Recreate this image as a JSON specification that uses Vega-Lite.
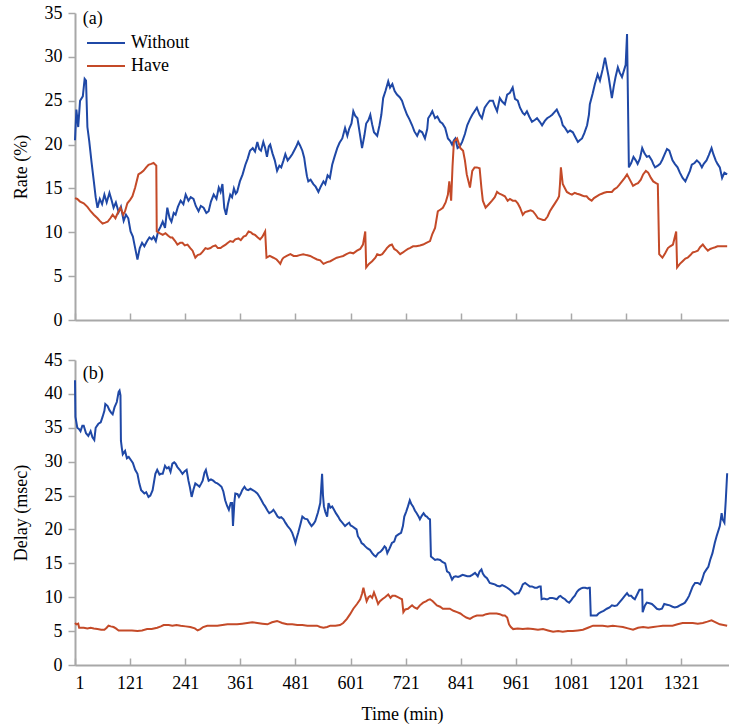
{
"$schema": "https://vega.github.io/schema/vega-lite/v6.json",
"padding": {"left": 12, "top": 4, "right": 0, "bottom": 2},
"background": "white",
"config": {
 "font": "Liberation Serif",
 "view": {"stroke": null},
 "axis": {"grid": false, "domainColor": "#a8a8a8", "domainWidth": 2, "tickColor": "#a8a8a8", "tickWidth": 1.5, "labelFont": "Liberation Serif", "labelFontSize": 18, "labelColor": "#000", "titleFont": "Liberation Serif", "titleFontSize": 18, "titleFontWeight": "normal", "titleColor": "#000"},
 "legend": {"orient": "none", "legendX": 11, "legendY": 22, "title": null, "symbolType": "stroke", "symbolSize": 1444, "symbolStrokeWidth": 2, "labelFont": "Liberation Serif", "labelFontSize": 18, "labelColor": "#000", "clipHeight": 16, "rowPadding": 5, "labelOffset": 5, "padding": 0}
},
"datasets": {
"rateW": [{"t":1,"v":20.5},{"t":4,"v":24},{"t":8,"v":22},{"t":12,"v":25},{"t":18,"v":25.5},{"t":22,"v":27.5},{"t":25,"v":27.3},{"t":28,"v":22},{"t":32,"v":20.4},{"t":37,"v":18},{"t":42,"v":15.8},{"t":46,"v":14},{"t":50,"v":12.8},{"t":55,"v":13.8},{"t":60,"v":13.2},{"t":65,"v":14.3},{"t":70,"v":13.4},{"t":76,"v":14.5},{"t":81,"v":13.6},{"t":85,"v":12.8},{"t":90,"v":13.4},{"t":96,"v":12.3},{"t":101,"v":12.9},{"t":107,"v":11.3},{"t":112,"v":12},{"t":117,"v":11.6},{"t":122,"v":10.1},{"t":127,"v":9.5},{"t":132,"v":8.2},{"t":137,"v":6.9},{"t":142,"v":8.2},{"t":147,"v":8.8},{"t":152,"v":8.4},{"t":158,"v":9},{"t":163,"v":9.4},{"t":168,"v":9.2},{"t":172,"v":9.5},{"t":177,"v":9},{"t":182,"v":10.1},{"t":187,"v":10.6},{"t":192,"v":11.2},{"t":197,"v":10.5},{"t":202,"v":12.8},{"t":207,"v":11.6},{"t":211,"v":11.2},{"t":216,"v":12.2},{"t":220,"v":12},{"t":225,"v":12.9},{"t":231,"v":13.6},{"t":237,"v":13.2},{"t":242,"v":14.3},{"t":248,"v":13.6},{"t":253,"v":14},{"t":259,"v":13.8},{"t":264,"v":13},{"t":270,"v":12.4},{"t":275,"v":13},{"t":281,"v":12.8},{"t":287,"v":12.2},{"t":292,"v":12.4},{"t":297,"v":13.5},{"t":303,"v":14.3},{"t":309,"v":13.8},{"t":314,"v":15.1},{"t":318,"v":14.6},{"t":322,"v":15.5},{"t":326,"v":12.8},{"t":330,"v":12},{"t":334,"v":13.2},{"t":339,"v":14.3},{"t":343,"v":14},{"t":347,"v":15},{"t":351,"v":14.4},{"t":354,"v":14.6},{"t":360,"v":15.8},{"t":366,"v":16.6},{"t":372,"v":17.7},{"t":377,"v":18.4},{"t":382,"v":19.3},{"t":388,"v":19.6},{"t":393,"v":19.2},{"t":398,"v":20.3},{"t":402,"v":19.5},{"t":406,"v":19.3},{"t":411,"v":20.3},{"t":415,"v":19.6},{"t":419,"v":18.6},{"t":423,"v":19.8},{"t":426,"v":20},{"t":431,"v":19},{"t":436,"v":18.2},{"t":441,"v":17},{"t":446,"v":17.6},{"t":450,"v":17.4},{"t":455,"v":18.2},{"t":459,"v":18.9},{"t":464,"v":18.2},{"t":470,"v":18.6},{"t":474,"v":18.9},{"t":478,"v":19.3},{"t":483,"v":19.8},{"t":487,"v":20.3},{"t":491,"v":19.9},{"t":496,"v":19.3},{"t":500,"v":18.5},{"t":503,"v":17.4},{"t":506,"v":16.4},{"t":509,"v":15.8},{"t":514,"v":16},{"t":520,"v":15.5},{"t":525,"v":15.2},{"t":531,"v":14.6},{"t":536,"v":15.2},{"t":542,"v":15.8},{"t":546,"v":15.5},{"t":551,"v":16.5},{"t":556,"v":16.2},{"t":561,"v":17.7},{"t":566,"v":18.6},{"t":572,"v":19.6},{"t":577,"v":20.2},{"t":583,"v":20.7},{"t":589,"v":21.9},{"t":594,"v":21},{"t":598,"v":21.8},{"t":603,"v":22.4},{"t":607,"v":23.8},{"t":611,"v":23.3},{"t":616,"v":23},{"t":621,"v":21.3},{"t":626,"v":19.6},{"t":631,"v":21},{"t":635,"v":22.4},{"t":640,"v":22.8},{"t":644,"v":23.4},{"t":648,"v":22.3},{"t":652,"v":21.4},{"t":659,"v":21},{"t":664,"v":22.2},{"t":668,"v":23.4},{"t":672,"v":25.3},{"t":677,"v":26.1},{"t":683,"v":27.2},{"t":687,"v":26.5},{"t":692,"v":26.9},{"t":697,"v":26.1},{"t":702,"v":25.7},{"t":708,"v":25.4},{"t":713,"v":25},{"t":718,"v":24.2},{"t":724,"v":23.4},{"t":729,"v":22.9},{"t":735,"v":22.2},{"t":740,"v":21.5},{"t":746,"v":21},{"t":751,"v":21.6},{"t":757,"v":21.4},{"t":763,"v":20.7},{"t":768,"v":21.8},{"t":770,"v":23},{"t":775,"v":23.4},{"t":779,"v":23.8},{"t":785,"v":23},{"t":790,"v":23.2},{"t":796,"v":22.6},{"t":801,"v":22.4},{"t":807,"v":21.9},{"t":813,"v":20.7},{"t":818,"v":20.4},{"t":822,"v":20},{"t":826,"v":20.5},{"t":829,"v":20.7},{"t":834,"v":19.6},{"t":839,"v":19.8},{"t":844,"v":20.3},{"t":850,"v":21.2},{"t":855,"v":22.2},{"t":861,"v":22.9},{"t":866,"v":23.4},{"t":871,"v":23.8},{"t":876,"v":24.2},{"t":882,"v":23.4},{"t":887,"v":23},{"t":893,"v":24.2},{"t":898,"v":24.6},{"t":904,"v":25},{"t":911,"v":25},{"t":915,"v":24.4},{"t":920,"v":23.8},{"t":926,"v":25.3},{"t":931,"v":24.9},{"t":937,"v":24.6},{"t":942,"v":25.7},{"t":948,"v":25.9},{"t":954,"v":26.5},{"t":959,"v":25.2},{"t":965,"v":25},{"t":970,"v":24.2},{"t":976,"v":23.6},{"t":980,"v":23.4},{"t":985,"v":23.8},{"t":990,"v":23.2},{"t":996,"v":22.6},{"t":1002,"v":22.8},{"t":1007,"v":23},{"t":1013,"v":22.6},{"t":1018,"v":22.2},{"t":1024,"v":22.7},{"t":1029,"v":23},{"t":1035,"v":23.2},{"t":1040,"v":23.4},{"t":1045,"v":23.7},{"t":1050,"v":24},{"t":1055,"v":23.4},{"t":1059,"v":23},{"t":1063,"v":22.2},{"t":1068,"v":21.9},{"t":1074,"v":21.4},{"t":1079,"v":21.6},{"t":1085,"v":21.4},{"t":1090,"v":20.9},{"t":1096,"v":20.3},{"t":1100,"v":20.5},{"t":1105,"v":20.7},{"t":1110,"v":21.3},{"t":1116,"v":22.2},{"t":1120,"v":23.4},{"t":1122,"v":24.6},{"t":1128,"v":25.8},{"t":1133,"v":26.9},{"t":1139,"v":28},{"t":1144,"v":27.3},{"t":1150,"v":28.6},{"t":1155,"v":29.9},{"t":1159,"v":28.8},{"t":1163,"v":27.7},{"t":1170,"v":25.3},{"t":1174,"v":26.6},{"t":1178,"v":27.7},{"t":1183,"v":28.8},{"t":1187,"v":28.2},{"t":1192,"v":27.7},{"t":1196,"v":28.4},{"t":1200,"v":29.1},{"t":1203,"v":32.6},{"t":1207,"v":17.4},{"t":1212,"v":17.9},{"t":1217,"v":18.6},{"t":1222,"v":18.2},{"t":1226,"v":17.8},{"t":1231,"v":18.4},{"t":1236,"v":19.6},{"t":1241,"v":19},{"t":1246,"v":18.6},{"t":1251,"v":18.7},{"t":1257,"v":18.2},{"t":1260,"v":17.8},{"t":1264,"v":17.4},{"t":1270,"v":17.6},{"t":1275,"v":17.8},{"t":1280,"v":18.3},{"t":1285,"v":18.9},{"t":1290,"v":19.5},{"t":1295,"v":19.3},{"t":1302,"v":18.2},{"t":1307,"v":17.8},{"t":1313,"v":17.4},{"t":1318,"v":16.8},{"t":1324,"v":16.2},{"t":1330,"v":15.8},{"t":1335,"v":16.4},{"t":1340,"v":17},{"t":1344,"v":17.7},{"t":1350,"v":17.9},{"t":1355,"v":18.2},{"t":1361,"v":17.9},{"t":1366,"v":17.4},{"t":1370,"v":17.8},{"t":1376,"v":18.2},{"t":1381,"v":18.8},{"t":1387,"v":19.6},{"t":1391,"v":18.9},{"t":1396,"v":18.2},{"t":1400,"v":17.8},{"t":1405,"v":17.4},{"t":1410,"v":16.2},{"t":1415,"v":16.8},{"t":1421,"v":16.6}],
"rateH": [{"t":1,"v":13.9},{"t":6,"v":13.8},{"t":12,"v":13.5},{"t":20,"v":13.3},{"t":28,"v":12.9},{"t":35,"v":12.4},{"t":42,"v":12},{"t":50,"v":11.6},{"t":55,"v":11.3},{"t":61,"v":11},{"t":67,"v":11.1},{"t":72,"v":11.2},{"t":78,"v":11.6},{"t":83,"v":12},{"t":89,"v":11.6},{"t":94,"v":12.2},{"t":100,"v":12.8},{"t":106,"v":12},{"t":110,"v":12.4},{"t":115,"v":13.3},{"t":121,"v":13.7},{"t":126,"v":14.1},{"t":132,"v":15.1},{"t":139,"v":16.6},{"t":145,"v":16.8},{"t":150,"v":17},{"t":156,"v":17.4},{"t":161,"v":17.7},{"t":167,"v":17.8},{"t":172,"v":17.9},{"t":178,"v":17.6},{"t":179,"v":10.1},{"t":185,"v":9.9},{"t":192,"v":9.7},{"t":198,"v":9.9},{"t":204,"v":9.6},{"t":209,"v":9.4},{"t":213,"v":9.4},{"t":219,"v":9},{"t":224,"v":8.6},{"t":230,"v":8.8},{"t":235,"v":8.8},{"t":240,"v":8.5},{"t":246,"v":8.6},{"t":252,"v":8.2},{"t":257,"v":7.9},{"t":263,"v":7.1},{"t":268,"v":7.4},{"t":274,"v":7.5},{"t":279,"v":7.8},{"t":285,"v":8.2},{"t":290,"v":8.1},{"t":296,"v":8.2},{"t":301,"v":8.4},{"t":307,"v":8.5},{"t":312,"v":8.2},{"t":318,"v":8.2},{"t":323,"v":8.4},{"t":329,"v":8.6},{"t":334,"v":8.8},{"t":339,"v":9},{"t":345,"v":8.9},{"t":350,"v":9.2},{"t":357,"v":9.3},{"t":362,"v":9.1},{"t":368,"v":9.5},{"t":373,"v":9.6},{"t":379,"v":10.1},{"t":384,"v":10},{"t":388,"v":9.8},{"t":393,"v":9.7},{"t":399,"v":9.4},{"t":404,"v":9.2},{"t":409,"v":9.5},{"t":415,"v":10.1},{"t":418,"v":7.1},{"t":425,"v":7.3},{"t":433,"v":7.1},{"t":440,"v":6.9},{"t":445,"v":6.6},{"t":448,"v":6.4},{"t":452,"v":6.9},{"t":455,"v":7.1},{"t":462,"v":7.3},{"t":470,"v":7.5},{"t":477,"v":7.3},{"t":484,"v":7.3},{"t":490,"v":7.4},{"t":498,"v":7.5},{"t":505,"v":7.4},{"t":513,"v":7.3},{"t":520,"v":7.1},{"t":528,"v":6.9},{"t":535,"v":6.8},{"t":542,"v":6.4},{"t":550,"v":6.6},{"t":557,"v":6.7},{"t":564,"v":6.9},{"t":571,"v":7.1},{"t":578,"v":7.2},{"t":585,"v":7.3},{"t":592,"v":7.5},{"t":600,"v":7.7},{"t":607,"v":7.6},{"t":615,"v":7.9},{"t":622,"v":8.1},{"t":628,"v":8.6},{"t":633,"v":10.1},{"t":635,"v":6},{"t":641,"v":6.4},{"t":648,"v":6.7},{"t":655,"v":7.1},{"t":659,"v":7.5},{"t":665,"v":7.4},{"t":670,"v":7.5},{"t":676,"v":7.9},{"t":680,"v":8.2},{"t":686,"v":8.5},{"t":691,"v":8.6},{"t":696,"v":8.1},{"t":702,"v":7.9},{"t":709,"v":7.5},{"t":715,"v":7.7},{"t":720,"v":7.9},{"t":726,"v":8.1},{"t":730,"v":8.2},{"t":737,"v":8.4},{"t":744,"v":8.4},{"t":752,"v":8.5},{"t":759,"v":8.6},{"t":766,"v":8.8},{"t":774,"v":9},{"t":779,"v":9.8},{"t":785,"v":10.5},{"t":791,"v":12.4},{"t":797,"v":12.6},{"t":802,"v":12.8},{"t":808,"v":13.4},{"t":813,"v":14.3},{"t":816,"v":15.8},{"t":820,"v":13.6},{"t":823,"v":17.5},{"t":826,"v":20.3},{"t":833,"v":20.7},{"t":840,"v":19.6},{"t":846,"v":19.3},{"t":850,"v":18.2},{"t":854,"v":16.6},{"t":861,"v":15.1},{"t":866,"v":17},{"t":871,"v":17.4},{"t":876,"v":17.4},{"t":882,"v":17.3},{"t":886,"v":15},{"t":889,"v":13.6},{"t":895,"v":12.8},{"t":902,"v":13.2},{"t":909,"v":13.6},{"t":915,"v":14},{"t":920,"v":14.6},{"t":925,"v":14.4},{"t":930,"v":14.3},{"t":937,"v":14.1},{"t":943,"v":13.6},{"t":948,"v":13.8},{"t":954,"v":13.6},{"t":960,"v":13.6},{"t":965,"v":13.3},{"t":970,"v":12.8},{"t":976,"v":12},{"t":981,"v":12.3},{"t":987,"v":12.4},{"t":993,"v":12.5},{"t":998,"v":12.4},{"t":1004,"v":12},{"t":1009,"v":11.6},{"t":1015,"v":11.5},{"t":1020,"v":11.4},{"t":1024,"v":11.4},{"t":1030,"v":11.8},{"t":1035,"v":12.4},{"t":1041,"v":12.9},{"t":1046,"v":13.3},{"t":1052,"v":13.8},{"t":1055,"v":14.1},{"t":1057,"v":15.5},{"t":1059,"v":17.4},{"t":1063,"v":15.5},{"t":1068,"v":15},{"t":1072,"v":14.6},{"t":1078,"v":14.4},{"t":1083,"v":14.3},{"t":1089,"v":14.5},{"t":1094,"v":14.4},{"t":1100,"v":14.3},{"t":1105,"v":14.2},{"t":1110,"v":14.1},{"t":1115,"v":14.1},{"t":1120,"v":13.8},{"t":1126,"v":13.6},{"t":1131,"v":13.9},{"t":1137,"v":14.1},{"t":1143,"v":14.3},{"t":1148,"v":14.4},{"t":1153,"v":14.5},{"t":1159,"v":14.6},{"t":1164,"v":14.6},{"t":1170,"v":14.6},{"t":1175,"v":14.9},{"t":1181,"v":15.1},{"t":1186,"v":15.4},{"t":1192,"v":15.8},{"t":1198,"v":16.2},{"t":1203,"v":16.6},{"t":1207,"v":16.2},{"t":1211,"v":15.8},{"t":1216,"v":15.3},{"t":1222,"v":15.5},{"t":1227,"v":15.6},{"t":1233,"v":16},{"t":1238,"v":16.6},{"t":1244,"v":17},{"t":1249,"v":16.8},{"t":1255,"v":16.2},{"t":1260,"v":15.8},{"t":1266,"v":15.6},{"t":1270,"v":15.5},{"t":1273,"v":7.5},{"t":1280,"v":7.1},{"t":1286,"v":7.6},{"t":1292,"v":8.2},{"t":1297,"v":8.4},{"t":1303,"v":8.6},{"t":1310,"v":10.1},{"t":1312,"v":6},{"t":1318,"v":6.4},{"t":1324,"v":6.7},{"t":1330,"v":7},{"t":1335,"v":7.1},{"t":1341,"v":7.4},{"t":1346,"v":7.7},{"t":1352,"v":7.8},{"t":1357,"v":7.9},{"t":1362,"v":8.3},{"t":1368,"v":8.6},{"t":1374,"v":8.2},{"t":1379,"v":7.9},{"t":1384,"v":8.1},{"t":1389,"v":8.2},{"t":1395,"v":8.3},{"t":1400,"v":8.4},{"t":1405,"v":8.4},{"t":1413,"v":8.4},{"t":1421,"v":8.4}],
"delayW": [{"t":1,"v":42},{"t":2,"v":36.6},{"t":6,"v":35},{"t":10,"v":34.8},{"t":13,"v":34.5},{"t":17,"v":35.3},{"t":20,"v":35.3},{"t":25,"v":34.2},{"t":30,"v":33.8},{"t":35,"v":34.5},{"t":39,"v":33.6},{"t":43,"v":33.2},{"t":46,"v":35},{"t":50,"v":35.4},{"t":52,"v":35.6},{"t":57,"v":35.8},{"t":61,"v":36.6},{"t":65,"v":37.5},{"t":67,"v":38.5},{"t":72,"v":38.2},{"t":76,"v":37.6},{"t":80,"v":37.2},{"t":83,"v":37},{"t":87,"v":38},{"t":92,"v":38.8},{"t":96,"v":40.3},{"t":98,"v":40.5},{"t":100,"v":39.8},{"t":101,"v":33.1},{"t":103,"v":32},{"t":105,"v":31.1},{"t":110,"v":31.6},{"t":114,"v":30.5},{"t":118,"v":30.7},{"t":123,"v":30.2},{"t":127,"v":29.8},{"t":132,"v":28.8},{"t":137,"v":28.2},{"t":141,"v":26.8},{"t":145,"v":25.8},{"t":148,"v":25.6},{"t":152,"v":25.3},{"t":156,"v":25.5},{"t":161,"v":24.8},{"t":165,"v":25},{"t":170,"v":25.8},{"t":173,"v":27},{"t":176,"v":28.2},{"t":180,"v":28.8},{"t":185,"v":28.1},{"t":188,"v":28.2},{"t":192,"v":28.2},{"t":197,"v":29.4},{"t":201,"v":29},{"t":205,"v":29.2},{"t":209,"v":28.5},{"t":213,"v":29.7},{"t":217,"v":29.9},{"t":220,"v":29.7},{"t":224,"v":29.2},{"t":229,"v":28.8},{"t":233,"v":28.4},{"t":235,"v":28.2},{"t":240,"v":28.6},{"t":244,"v":28.8},{"t":248,"v":27.2},{"t":251,"v":26.3},{"t":255,"v":24.8},{"t":259,"v":25.9},{"t":263,"v":26.8},{"t":267,"v":26.6},{"t":272,"v":26.3},{"t":276,"v":26.8},{"t":279,"v":27.2},{"t":283,"v":28.4},{"t":286,"v":28.8},{"t":289,"v":27.9},{"t":292,"v":27.2},{"t":297,"v":27.4},{"t":302,"v":27.2},{"t":307,"v":26.9},{"t":311,"v":26.8},{"t":315,"v":26.6},{"t":320,"v":26.3},{"t":324,"v":25.6},{"t":328,"v":24.3},{"t":332,"v":23.5},{"t":336,"v":22.9},{"t":340,"v":23.9},{"t":343,"v":23.9},{"t":345,"v":20.5},{"t":348,"v":24},{"t":350,"v":25.3},{"t":355,"v":25.2},{"t":358,"v":24.8},{"t":362,"v":25.3},{"t":365,"v":25.8},{"t":370,"v":26.3},{"t":374,"v":25.9},{"t":378,"v":25.8},{"t":383,"v":26},{"t":388,"v":25.8},{"t":393,"v":25.6},{"t":398,"v":25.3},{"t":403,"v":24.8},{"t":407,"v":24.3},{"t":411,"v":23.8},{"t":415,"v":23.4},{"t":420,"v":22.8},{"t":424,"v":22.4},{"t":429,"v":22.6},{"t":433,"v":22.9},{"t":437,"v":22.5},{"t":442,"v":21.9},{"t":446,"v":21.7},{"t":450,"v":21.8},{"t":455,"v":21.5},{"t":459,"v":21},{"t":464,"v":20.5},{"t":470,"v":20},{"t":474,"v":19.5},{"t":478,"v":18.7},{"t":481,"v":18},{"t":484,"v":18.8},{"t":487,"v":19.5},{"t":492,"v":20.8},{"t":496,"v":21.9},{"t":501,"v":21.6},{"t":507,"v":21.5},{"t":511,"v":21},{"t":516,"v":20.5},{"t":520,"v":20.8},{"t":524,"v":21.2},{"t":530,"v":22.5},{"t":535,"v":23.9},{"t":537,"v":26},{"t":539,"v":28.2},{"t":541,"v":25},{"t":543,"v":23.4},{"t":546,"v":22.6},{"t":550,"v":21.9},{"t":553,"v":23.9},{"t":557,"v":23.2},{"t":561,"v":23.4},{"t":565,"v":22.9},{"t":569,"v":22.4},{"t":574,"v":21.9},{"t":578,"v":21.4},{"t":583,"v":21},{"t":589,"v":20.5},{"t":594,"v":20.8},{"t":598,"v":21},{"t":601,"v":20.6},{"t":604,"v":20.5},{"t":610,"v":20.2},{"t":614,"v":20},{"t":617,"v":19},{"t":621,"v":18.6},{"t":625,"v":18},{"t":629,"v":17.8},{"t":633,"v":17.5},{"t":638,"v":17.2},{"t":643,"v":17},{"t":648,"v":16.5},{"t":652,"v":16.2},{"t":656,"v":16},{"t":661,"v":16.5},{"t":666,"v":16.7},{"t":670,"v":17},{"t":675,"v":17.5},{"t":678,"v":17.3},{"t":681,"v":16.5},{"t":686,"v":17.2},{"t":691,"v":18},{"t":696,"v":18.2},{"t":700,"v":19},{"t":706,"v":19.3},{"t":711,"v":19.5},{"t":715,"v":20.5},{"t":718,"v":21.9},{"t":722,"v":22.6},{"t":726,"v":23.4},{"t":730,"v":24.3},{"t":733,"v":23.8},{"t":737,"v":23.4},{"t":741,"v":22.8},{"t":745,"v":22.4},{"t":750,"v":21.8},{"t":752,"v":21.5},{"t":756,"v":22},{"t":760,"v":22.4},{"t":764,"v":22},{"t":767,"v":21.9},{"t":771,"v":21.6},{"t":774,"v":21.5},{"t":776,"v":16},{"t":780,"v":15.8},{"t":785,"v":15.5},{"t":790,"v":15.6},{"t":796,"v":15.5},{"t":801,"v":15.2},{"t":807,"v":15},{"t":811,"v":13.8},{"t":816,"v":13.6},{"t":822,"v":12.6},{"t":826,"v":13},{"t":830,"v":13.1},{"t":835,"v":13},{"t":839,"v":13.1},{"t":845,"v":13.3},{"t":850,"v":13.2},{"t":855,"v":13.1},{"t":861,"v":13.1},{"t":866,"v":13.3},{"t":872,"v":13.6},{"t":878,"v":13.1},{"t":882,"v":13.8},{"t":886,"v":14.1},{"t":889,"v":13.5},{"t":893,"v":13.1},{"t":898,"v":12.8},{"t":904,"v":12.1},{"t":910,"v":12},{"t":915,"v":11.9},{"t":920,"v":11.7},{"t":926,"v":11.6},{"t":931,"v":11.8},{"t":937,"v":11.6},{"t":942,"v":11.4},{"t":948,"v":11.1},{"t":953,"v":10.8},{"t":959,"v":10.4},{"t":963,"v":10.6},{"t":967,"v":10.6},{"t":972,"v":11.2},{"t":976,"v":11.9},{"t":981,"v":12.1},{"t":987,"v":11.8},{"t":991,"v":11.6},{"t":996,"v":11.6},{"t":1002,"v":11.4},{"t":1007,"v":11.4},{"t":1012,"v":11.6},{"t":1015,"v":11.6},{"t":1017,"v":9.7},{"t":1022,"v":9.8},{"t":1027,"v":9.7},{"t":1030,"v":9.7},{"t":1035,"v":9.9},{"t":1040,"v":9.9},{"t":1045,"v":9.8},{"t":1050,"v":9.7},{"t":1055,"v":10.1},{"t":1058,"v":10.2},{"t":1063,"v":9.9},{"t":1068,"v":9.7},{"t":1072,"v":9.4},{"t":1077,"v":9.2},{"t":1082,"v":9.6},{"t":1085,"v":9.9},{"t":1089,"v":10.2},{"t":1094,"v":10.8},{"t":1098,"v":11.1},{"t":1103,"v":11.3},{"t":1107,"v":11.4},{"t":1112,"v":11.4},{"t":1117,"v":11.3},{"t":1120,"v":11.4},{"t":1122,"v":11.4},{"t":1124,"v":7.3},{"t":1130,"v":7.3},{"t":1137,"v":7.3},{"t":1141,"v":7.6},{"t":1146,"v":7.8},{"t":1152,"v":8},{"t":1159,"v":8.3},{"t":1165,"v":8.5},{"t":1170,"v":8.8},{"t":1176,"v":8.7},{"t":1181,"v":8.8},{"t":1186,"v":9.2},{"t":1192,"v":9.7},{"t":1198,"v":10.2},{"t":1203,"v":10.6},{"t":1207,"v":10.2},{"t":1212,"v":10.2},{"t":1216,"v":9.9},{"t":1220,"v":9.7},{"t":1225,"v":10.4},{"t":1230,"v":11.1},{"t":1236,"v":11.1},{"t":1237,"v":7.8},{"t":1242,"v":8.8},{"t":1246,"v":9.2},{"t":1252,"v":9.1},{"t":1257,"v":9},{"t":1262,"v":8.7},{"t":1268,"v":8.3},{"t":1273,"v":8.2},{"t":1279,"v":8.3},{"t":1284,"v":9},{"t":1290,"v":8.9},{"t":1296,"v":8.8},{"t":1302,"v":8.6},{"t":1307,"v":8.5},{"t":1313,"v":8.6},{"t":1318,"v":8.8},{"t":1324,"v":9},{"t":1329,"v":9.2},{"t":1333,"v":9.6},{"t":1338,"v":10.2},{"t":1342,"v":10.9},{"t":1346,"v":11.6},{"t":1351,"v":12.1},{"t":1357,"v":12.1},{"t":1362,"v":11.9},{"t":1366,"v":12.5},{"t":1371,"v":13.6},{"t":1376,"v":14.1},{"t":1380,"v":14.5},{"t":1384,"v":15.5},{"t":1389,"v":16.5},{"t":1394,"v":18},{"t":1398,"v":19},{"t":1405,"v":20.5},{"t":1409,"v":22.4},{"t":1411,"v":21.5},{"t":1415,"v":21},{"t":1418,"v":24.3},{"t":1421,"v":28.3}],
"delayH": [{"t":1,"v":6.2},{"t":4,"v":6},{"t":8,"v":6.1},{"t":10,"v":5.5},{"t":15,"v":5.5},{"t":20,"v":5.5},{"t":28,"v":5.4},{"t":35,"v":5.5},{"t":42,"v":5.4},{"t":50,"v":5.3},{"t":58,"v":5.2},{"t":65,"v":5.2},{"t":70,"v":5.5},{"t":74,"v":5.8},{"t":79,"v":5.7},{"t":85,"v":5.6},{"t":90,"v":5.4},{"t":96,"v":5.1},{"t":105,"v":5.1},{"t":115,"v":5.1},{"t":125,"v":5.1},{"t":137,"v":5},{"t":147,"v":5.1},{"t":158,"v":5.3},{"t":168,"v":5.3},{"t":180,"v":5.5},{"t":188,"v":5.7},{"t":194,"v":5.9},{"t":205,"v":5.9},{"t":213,"v":5.8},{"t":222,"v":5.9},{"t":231,"v":5.8},{"t":242,"v":5.7},{"t":252,"v":5.6},{"t":262,"v":5.4},{"t":268,"v":5.1},{"t":274,"v":5.3},{"t":280,"v":5.6},{"t":289,"v":5.8},{"t":300,"v":5.8},{"t":311,"v":5.8},{"t":322,"v":5.9},{"t":333,"v":6},{"t":344,"v":6},{"t":354,"v":6},{"t":365,"v":6.1},{"t":376,"v":6.2},{"t":387,"v":6.3},{"t":398,"v":6.2},{"t":409,"v":6.1},{"t":420,"v":6},{"t":430,"v":6.3},{"t":441,"v":6.5},{"t":452,"v":6.2},{"t":463,"v":6},{"t":474,"v":6},{"t":485,"v":5.9},{"t":496,"v":5.9},{"t":507,"v":5.8},{"t":518,"v":5.8},{"t":528,"v":5.8},{"t":535,"v":5.6},{"t":542,"v":5.5},{"t":550,"v":5.6},{"t":557,"v":5.8},{"t":568,"v":5.8},{"t":578,"v":5.9},{"t":585,"v":6.2},{"t":593,"v":6.8},{"t":600,"v":7.5},{"t":607,"v":8.3},{"t":615,"v":9},{"t":622,"v":9.7},{"t":626,"v":10.5},{"t":629,"v":11.4},{"t":633,"v":10.2},{"t":636,"v":9.4},{"t":640,"v":10},{"t":644,"v":10.2},{"t":648,"v":9.9},{"t":652,"v":10.7},{"t":656,"v":10},{"t":661,"v":9},{"t":665,"v":9.4},{"t":670,"v":9.7},{"t":676,"v":10},{"t":683,"v":10.4},{"t":688,"v":9.9},{"t":692,"v":10.2},{"t":698,"v":10.2},{"t":704,"v":10},{"t":710,"v":9.8},{"t":713,"v":9.7},{"t":716,"v":7.8},{"t":720,"v":8.2},{"t":726,"v":8.3},{"t":731,"v":8.6},{"t":735,"v":8.8},{"t":740,"v":8.5},{"t":746,"v":8.3},{"t":752,"v":8.8},{"t":759,"v":9.2},{"t":765,"v":9.4},{"t":770,"v":9.6},{"t":774,"v":9.7},{"t":780,"v":9.4},{"t":789,"v":8.8},{"t":796,"v":8.6},{"t":802,"v":8.3},{"t":810,"v":8.3},{"t":817,"v":8.3},{"t":825,"v":8},{"t":833,"v":7.8},{"t":840,"v":7.6},{"t":846,"v":7.3},{"t":853,"v":7},{"t":861,"v":6.8},{"t":868,"v":7.1},{"t":876,"v":7.3},{"t":883,"v":7.3},{"t":889,"v":7.3},{"t":896,"v":7.5},{"t":904,"v":7.6},{"t":911,"v":7.6},{"t":919,"v":7.6},{"t":926,"v":7.5},{"t":932,"v":7.3},{"t":937,"v":7.3},{"t":942,"v":7},{"t":946,"v":6},{"t":950,"v":5.6},{"t":955,"v":5.3},{"t":965,"v":5.4},{"t":976,"v":5.3},{"t":987,"v":5.4},{"t":998,"v":5.3},{"t":1009,"v":5.2},{"t":1020,"v":5.3},{"t":1031,"v":5.1},{"t":1042,"v":4.9},{"t":1053,"v":5},{"t":1063,"v":4.9},{"t":1074,"v":5},{"t":1085,"v":5},{"t":1096,"v":5.1},{"t":1107,"v":5.2},{"t":1118,"v":5.5},{"t":1129,"v":5.8},{"t":1140,"v":5.8},{"t":1150,"v":5.8},{"t":1161,"v":5.7},{"t":1172,"v":5.8},{"t":1183,"v":5.7},{"t":1194,"v":5.6},{"t":1205,"v":5.4},{"t":1216,"v":5.2},{"t":1227,"v":5.5},{"t":1238,"v":5.6},{"t":1249,"v":5.5},{"t":1260,"v":5.6},{"t":1270,"v":5.7},{"t":1281,"v":5.8},{"t":1292,"v":5.8},{"t":1302,"v":5.8},{"t":1313,"v":6},{"t":1324,"v":6.2},{"t":1335,"v":6.2},{"t":1346,"v":6.2},{"t":1357,"v":6.1},{"t":1368,"v":6.2},{"t":1378,"v":6.4},{"t":1387,"v":6.6},{"t":1396,"v":6.3},{"t":1405,"v":6},{"t":1413,"v":5.9},{"t":1421,"v":5.8}]
},
"spacing": 22,
"resolve": {"legend": {"color": "independent"}},
"vconcat": [
 {"width": 654, "height": 307,
  "encoding": {
   "x": {"field": "t", "type": "quantitative", "scale": {"domain": [1, 1425], "nice": false, "zero": false}, "axis": {"values": [1,121,241,361,481,601,721,841,961,1081,1201,1321], "format": "d", "labels": false, "title": null, "tickSize": -7}},
   "y": {"field": "v", "type": "quantitative", "scale": {"domain": [0, 35], "nice": false}, "axis": {"values": [0,5,10,15,20,25,30,35], "title": "Rate (%)", "tickSize": 7, "labelPadding": 6, "titlePadding": 14, "labelFont": "Liberation Serif", "titleFont": "Liberation Serif"}}
  },
  "layer": [
   {"data": {"name": "rateW"}, "mark": {"type": "line", "strokeWidth": 2}, "encoding": {"color": {"datum": "Without", "scale": {"domain": ["Without", "Have"], "range": ["#1f48a6", "#c44a28"]}}}},
   {"data": {"name": "rateH"}, "mark": {"type": "line", "strokeWidth": 2}, "encoding": {"color": {"datum": "Have"}}},
   {"data": {"values": [{"t": 18, "v": 34.3, "label": "(a)"}]}, "mark": {"type": "text", "font": "Liberation Serif", "fontSize": 18, "align": "left", "baseline": "middle"}, "encoding": {"text": {"field": "label"}}}
  ]
 },
 {"width": 654, "height": 305,
  "encoding": {
   "x": {"field": "t", "type": "quantitative", "scale": {"domain": [1, 1425], "nice": false, "zero": false}, "axis": {"values": [1,121,241,361,481,601,721,841,961,1081,1201,1321], "format": "d", "title": "Time (min)", "tickSize": -7, "labelPadding": 16, "titlePadding": 13, "labelFont": "Liberation Serif", "titleFont": "Liberation Serif"}},
   "y": {"field": "v", "type": "quantitative", "scale": {"domain": [0, 45], "nice": false}, "axis": {"values": [0,5,10,15,20,25,30,35,40,45], "title": "Delay (msec)", "tickSize": 7, "labelPadding": 6, "titlePadding": 14, "labelFont": "Liberation Serif", "titleFont": "Liberation Serif"}}
  },
  "layer": [
   {"data": {"name": "delayW"}, "mark": {"type": "line", "strokeWidth": 2}, "encoding": {"color": {"datum": "Without", "legend": null}}},
   {"data": {"name": "delayH"}, "mark": {"type": "line", "strokeWidth": 2}, "encoding": {"color": {"datum": "Have", "legend": null}}},
   {"data": {"values": [{"t": 18, "v": 43, "label": "(b)"}]}, "mark": {"type": "text", "font": "Liberation Serif", "fontSize": 18, "align": "left", "baseline": "middle"}, "encoding": {"text": {"field": "label"}}}
  ]
 }
]
}
